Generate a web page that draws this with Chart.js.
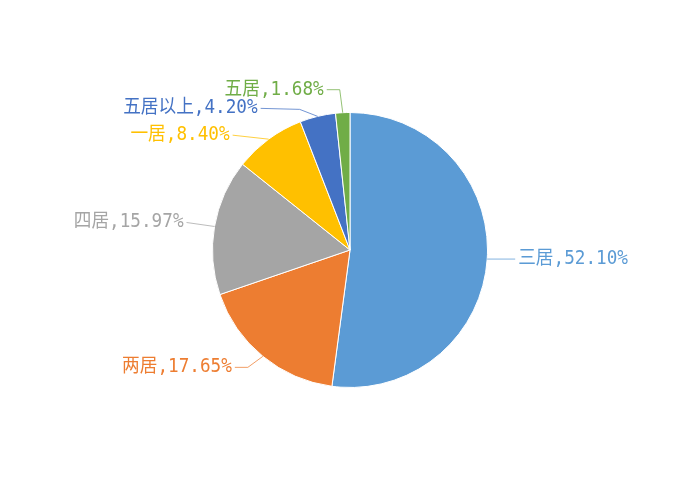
<!DOCTYPE html>
<html>
<head>
<meta charset="utf-8">
<script src="https://cdn.jsdelivr.net/npm/chart.js@4/dist/chart.umd.min.js"></script>
<style>
  html, body { margin: 0; padding: 0; background: #fff; }
  #wrap { width: 700px; height: 500px; }
</style>
</head>
<body>
<div id="wrap"><canvas id="myChart" width="700" height="500"></canvas></div>
<script>
var rooms = ['三居', '两居', '四居', '一居', '五居以上', '五居'];
var shares = [52.10, 17.65, 15.97, 8.40, 4.20, 1.68];
var colors = ['#5B9BD5', '#ED7D31', '#A5A5A5', '#FFC000', '#4472C4', '#70AD47'];

// leader line shape per slice: optional elbow + end, relative to the slice edge point
var leaders = [
  { elbow: null, end: [28, 0] },
  { elbow: [-15, 11], end: [-28, 11] },
  { elbow: null, end: [-28, -4] },
  { elbow: null, end: [-36, -4] },
  { elbow: [-18, -7], end: [-57, -8] },
  { elbow: [-3, -23], end: [-16, -23] }
];

// draws the "name,value%" labels with leader lines
const outsideLabels = {
  id: 'outsideLabels',
  afterDatasetsDraw(chart) {
    const c = chart.ctx;
    const arcs = chart.getDatasetMeta(0).data;
    c.save();
    arcs.forEach(function (arc, i) {
      const mid = (arc.startAngle + arc.endAngle) / 2;
      const ex = arc.x + Math.cos(mid) * arc.outerRadius;
      const ey = arc.y + Math.sin(mid) * arc.outerRadius;
      const l = leaders[i];
      c.strokeStyle = colors[i];
      c.globalAlpha = 0.75;
      c.lineWidth = 1;
      c.beginPath();
      c.moveTo(ex, ey);
      if (l.elbow) c.lineTo(ex + l.elbow[0], ey + l.elbow[1]);
      const tx = ex + l.end[0], ty = ey + l.end[1];
      c.lineTo(tx, ty);
      c.stroke();
      c.globalAlpha = 1;

      const text = rooms[i] + ',' + shares[i].toFixed(2) + '%';
      const right = tx > arc.x;
      c.font = '19px "DejaVu Sans Mono", "Noto Sans CJK SC"';
      c.fillStyle = colors[i];
      c.textBaseline = 'middle';
      c.save();
      c.translate(right ? tx + 3 : tx - 3, ty);
      c.scale(0.93, 1);
      c.textAlign = right ? 'left' : 'right';
      c.fillText(text, 0, 0);
      c.restore();
    });
    c.restore();
  }
};

const ctx = document.getElementById('myChart');

new Chart(ctx, {
  type: 'pie',
  data: {
    labels: rooms,
    datasets: [{
      data: shares,
      backgroundColor: colors,
      borderColor: '#ffffff',
      borderWidth: 1
    }]
  },
  options: {
    responsive: false,
    animation: false,
    layout: { padding: { top: 112, bottom: 112, left: 0, right: 0 } },
    plugins: {
      legend: { display: false },
      tooltip: { enabled: false }
    }
  },
  plugins: [outsideLabels]
});
</script>
</body>
</html>
